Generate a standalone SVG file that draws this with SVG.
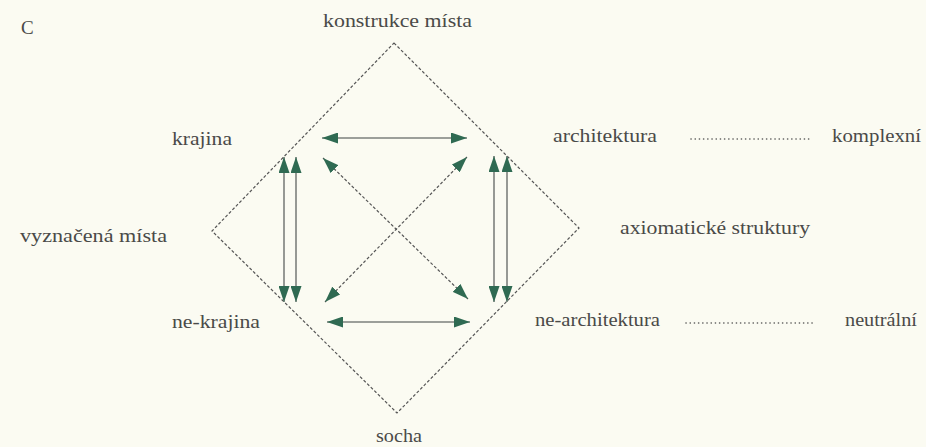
<svg xmlns="http://www.w3.org/2000/svg" width="926" height="447" viewBox="0 0 926 447">
<style>
.t{font-size:18px;fill:#4a4a48}
.shaft{stroke:#7d817c;stroke-width:1.6;fill:none}
.dash{stroke:#555;stroke-width:1.2;stroke-dasharray:3 2;fill:none}
.dot{stroke:#555;stroke-width:1.6;stroke-dasharray:0.1 4.1;stroke-linecap:round;fill:none}
</style>
<defs>
<marker id="ah" markerUnits="userSpaceOnUse" markerWidth="16" markerHeight="11" refX="16" refY="5.5" orient="auto-start-reverse">
<path d="M0,0 L16,5.5 L0,11 z" fill="#2f6a52"/>
</marker>
</defs>
<rect width="926" height="447" fill="#fbfbf2"/>
<g id="frame">
<polygon class="dash" points="394,43 579,228 397,413 212,231"/>
</g>
<g id="connectors">
<line class="shaft" x1="284" y1="157" x2="284" y2="302" marker-start="url(#ah)" marker-end="url(#ah)"/>
<line class="shaft" x1="296" y1="157" x2="296" y2="302" marker-start="url(#ah)" marker-end="url(#ah)"/>
<line class="shaft" x1="494" y1="156" x2="494" y2="302" marker-start="url(#ah)" marker-end="url(#ah)"/>
<line class="shaft" x1="507" y1="156" x2="507" y2="302" marker-start="url(#ah)" marker-end="url(#ah)"/>
<line class="shaft" x1="322" y1="138" x2="467" y2="138" marker-start="url(#ah)" marker-end="url(#ah)"/>
<line class="shaft" x1="327" y1="322" x2="470" y2="322" marker-start="url(#ah)" marker-end="url(#ah)"/>
<line class="dash" x1="323" y1="158" x2="468" y2="299" marker-start="url(#ah)" marker-end="url(#ah)"/>
<line class="dash" x1="467" y1="157" x2="325" y2="302" marker-start="url(#ah)" marker-end="url(#ah)"/>
<line class="dot" x1="691" y1="139" x2="812" y2="139"/>
<line class="dot" x1="686" y1="323" x2="813" y2="323"/>
</g>
<g font-family="Liberation Serif, DejaVu Serif, Times New Roman, serif">
<g id="n-c"><text class="t" x="21" y="34" style="font-size:19px">C</text></g>
<g id="n-konstrukce"><text class="t" x="323" y="27" textLength="149" lengthAdjust="spacingAndGlyphs">konstrukce místa</text></g>
<g id="n-krajina"><text class="t" x="172" y="145" textLength="60" lengthAdjust="spacingAndGlyphs">krajina</text></g>
<g id="n-architektura"><text class="t" x="553" y="142" textLength="104" lengthAdjust="spacingAndGlyphs">architektura</text></g>
<g id="n-komplexni"><text class="t" x="832" y="142" textLength="89" lengthAdjust="spacingAndGlyphs">komplexní</text></g>
<g id="n-vyznacena"><text class="t" x="20" y="242" textLength="147" lengthAdjust="spacingAndGlyphs">vyznačená místa</text></g>
<g id="n-axiomaticke"><text class="t" x="620" y="234" textLength="190" lengthAdjust="spacingAndGlyphs">axiomatické struktury</text></g>
<g id="n-nekrajina"><text class="t" x="172" y="328" textLength="88" lengthAdjust="spacingAndGlyphs">ne-krajina</text></g>
<g id="n-nearchitektura"><text class="t" x="535" y="326" textLength="125" lengthAdjust="spacingAndGlyphs">ne-architektura</text></g>
<g id="n-neutralni"><text class="t" x="845" y="326" textLength="72" lengthAdjust="spacingAndGlyphs">neutrální</text></g>
<g id="n-socha"><text class="t" x="376" y="442" textLength="46" lengthAdjust="spacingAndGlyphs">socha</text></g>
</g>
</svg>
